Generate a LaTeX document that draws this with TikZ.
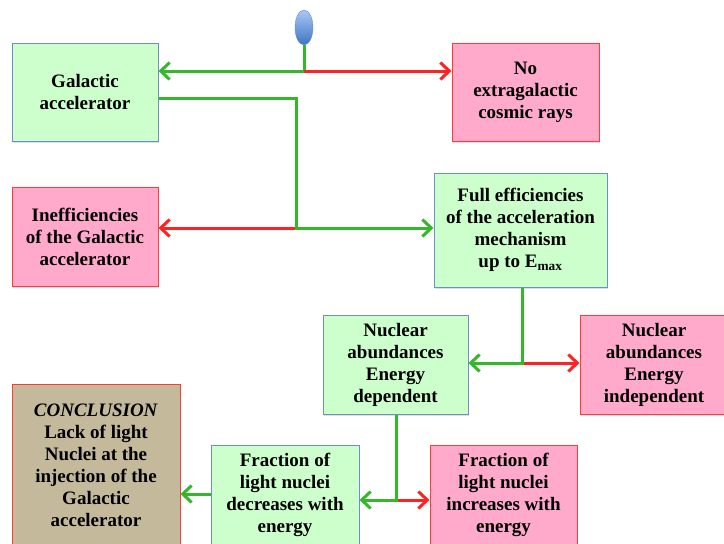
\documentclass[tikz,border=0pt]{standalone}
\usepackage{fontspec}
\setmainfont{Liberation Serif}
\usetikzlibrary{arrows.meta}
\usetikzlibrary{shadows}
\usetikzlibrary{shapes.geometric}
\definecolor{yesfill}{HTML}{CCFFCC}
\definecolor{nofill}{HTML}{FFAACB}
\definecolor{endfill}{HTML}{C4B99A}
\definecolor{yesline}{HTML}{33B82A}
\definecolor{noline}{HTML}{FF2222}
\definecolor{blueedge}{HTML}{6A8FCB}
\definecolor{rededge}{HTML}{FF3B3B}
\definecolor{bulbtop}{HTML}{A9C8F2}
\definecolor{bulbbot}{HTML}{3E74C4}
\tikzset{flp/.style={
  x=1pt,
  y=-1pt
}}
\tikzset{bx/.style={
  draw,
  line width=1pt,
  shape=rectangle,
  align=center,
  inner sep=2pt,
  font=\fontsize{19}{22}\selectfont\bfseries,
  drop shadow={opacity=0.25,shadow xshift=1pt,shadow yshift=-2pt},
}}
\tikzset{gbx/.style={bx,fill=yesfill,draw=blueedge}}
\tikzset{pbx/.style={bx,fill=nofill,draw=rededge}}
\tikzset{cbx/.style={bx,fill=endfill,draw=rededge}}
\tikzset{lnk/.style={line width=3pt}}
\tikzset{ylnk/.style={lnk,draw=yesline}}
\tikzset{nlnk/.style={lnk,draw=noline}}
\tikzset{tip/.style={-{Straight Barb[length=9pt,width=17pt]}}}
\begin{document}
\begin{tikzpicture}[flp]

    \useasboundingbox (0,0) rectangle (724,544);

    %% Boxes

    % First level
    \node[gbx,minimum width=146,minimum height=98] (gal) at (85,92)
      {Galactic\\accelerator};
    \node[pbx,minimum width=147,minimum height=98] (noxg) at (525.5,92)
      {No\\extragalactic\\cosmic rays};

    % Second level
    \node[pbx,minimum width=146,minimum height=99] (ineff) at (85,236.5)
      {Inefficiencies\\of the Galactic\\accelerator};
    \node[gbx,minimum width=173,minimum height=114] (full) at (520.5,230)
      {Full efficiencies\\of the acceleration\\mechanism\\up to E\textsubscript{max}};

    % Third level
    \node[gbx,minimum width=145,minimum height=99] (nucdep) at (395.5,364.5)
      {Nuclear\\abundances\\Energy\\dependent};
    \node[pbx,minimum width=148,minimum height=99] (nucind) at (654,364.5)
      {Nuclear\\abundances\\Energy\\independent};

    % Last level
    \node[gbx,minimum width=148,minimum height=100] (fdec) at (285,495)
      {Fraction of\\light nuclei\\decreases with\\energy};
    \node[pbx,minimum width=147,minimum height=100] (finc) at (503.5,495)
      {Fraction of\\light nuclei\\increases with\\energy};
    \node[cbx,minimum width=168,minimum height=162] (concl) at (96,465)
      {\textit{CONCLUSION}\\Lack of light\\Nuclei at the\\injection of the\\Galactic\\accelerator};

    %% Connectors

    % Start
    \coordinate (j1) at (304,71);
    \node[ellipse,minimum width=18,minimum height=35,inner sep=0pt,
      draw=blueedge,top color=bulbtop,bottom color=bulbbot] (bulb) at (304,27.5) {};
    \draw[ylnk] (bulb.south) -- (j1);
    \draw[nlnk,tip] (j1) -- (noxg.west |- j1);
    \draw[ylnk,tip] (j1) -- (gal.east |- j1);

    % Galactic accelerator
    \coordinate (j2) at (296,228);
    \draw[nlnk,tip] (j2) -- (ineff.east |- j2);
    \draw[ylnk,tip] ([yshift=-6pt]gal.east) -| (j2) -- (full.west |- j2);

    % Full efficiencies
    \coordinate (j3) at (522,363);
    \draw[nlnk,tip] (j3) -- (nucind.west |- j3);
    \draw[ylnk,tip] (full.south -| j3) -- (j3) -- (nucdep.east |- j3);

    % Energy dependent
    \coordinate (j4) at (396,500);
    \draw[nlnk,tip] (j4) -- (finc.west |- j4);
    \draw[ylnk,tip] (nucdep.south -| j4) -- (j4) -- (fdec.east |- j4);

    % Conclusion
    \coordinate (j5) at ([yshift=1pt]fdec.west);
    \draw[ylnk,tip] (j5) -- (concl.east |- j5);

  \end{tikzpicture}
\end{document}
